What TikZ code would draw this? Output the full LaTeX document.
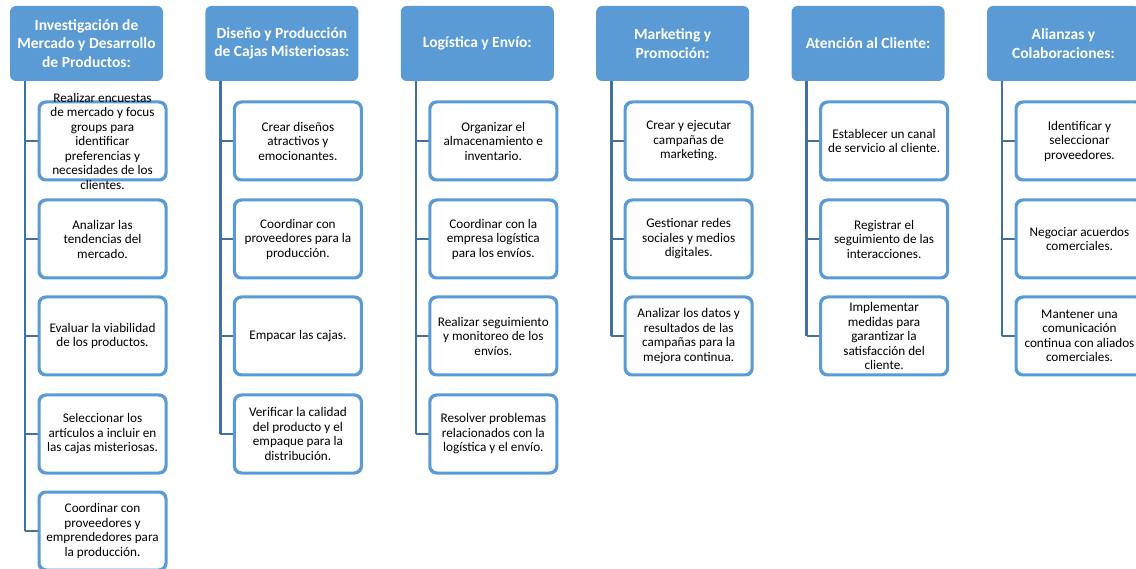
\documentclass[tikz,border=0pt]{standalone}
\usepackage{fontspec}
\setmainfont{Carlito}
\definecolor{hdrblue}{HTML}{5B9BD5}
\definecolor{boxblue}{HTML}{5B9BD5}
\definecolor{lineblue}{HTML}{41719C}
\tikzset{
  hdr/.style={rectangle, rounded corners=6pt, fill=hdrblue, minimum width=153pt,
    minimum height=75pt, inner sep=0pt, text=white, align=center,
    font=\bfseries\fontsize{15.5}{18.3}\selectfont},
  cbox/.style={rectangle, rounded corners=7pt, draw=boxblue, line width=2pt, fill=white,
    minimum width=126pt, minimum height=77pt, inner sep=0pt},
  ctext/.style={align=center, inner sep=0pt, font=\fontsize{13.2}{14.5}\selectfont},
  link/.style={draw=lineblue, line width=2.6pt}
}
\begin{document}
\begin{tikzpicture}[x=1pt,y=1pt]
\useasboundingbox (0,0) rectangle (1136,-569);
\fill[white] (0,0) rectangle (1136,-569);

% ---------- column headers ----------
\node[hdr] (h1) at (86.5,-43.5) {Investigación de\\Mercado y Desarrollo\\de Productos:};
\node[hdr] (h2) at (281.9,-43.5) {Diseño y Producción\\de Cajas Misteriosas:};
\node[hdr] (h3) at (477.3,-43.5) {Logística y Envío:};
\node[hdr] (h4) at (672.7,-43.5) {Marketing y\\Promoción:};
\node[hdr] (h5) at (868.1,-43.5) {Atención al Cliente:};
\node[hdr] (h6) at (1063.5,-43.5) {Alianzas y\\Colaboraciones:};

% trunk tops under each header
\coordinate (t1) at (25,-81);
\coordinate (t2) at (220.4,-81);
\coordinate (t3) at (415.8,-81);
\coordinate (t4) at (611.2,-81);
\coordinate (t5) at (806.6,-81);
\coordinate (t6) at (1002,-81);

% ---------- task boxes ----------
% column 1
\node[cbox] (a1) at (102.5,-141) {};
\node[cbox] (a2) at (102.5,-239) {};
\node[cbox] (a3) at (102.5,-336) {};
\node[cbox] (a4) at (102.5,-434) {};
\node[cbox] (a5) at (102.5,-531) {};
% column 2
\node[cbox] (b1) at (297.9,-141) {};
\node[cbox] (b2) at (297.9,-239) {};
\node[cbox] (b3) at (297.9,-336) {};
\node[cbox] (b4) at (297.9,-434) {};
% column 3
\node[cbox] (c1) at (493.3,-141) {};
\node[cbox] (c2) at (493.3,-239) {};
\node[cbox] (c3) at (493.3,-336) {};
\node[cbox] (c4) at (493.3,-434) {};
% column 4
\node[cbox] (d1) at (688.7,-141) {};
\node[cbox] (d2) at (688.7,-239) {};
\node[cbox] (d3) at (688.7,-336) {};
% column 5
\node[cbox] (e1) at (884.1,-141) {};
\node[cbox] (e2) at (884.1,-239) {};
\node[cbox] (e3) at (884.1,-336) {};
% column 6
\node[cbox] (f1) at (1079.5,-141) {};
\node[cbox] (f2) at (1079.5,-239) {};
\node[cbox] (f3) at (1079.5,-336) {};

% ---------- connectors: trunk per column, branch to each box ----------
\draw[link] (t1) -- (t1 |- a5.west);
\foreach \n in {a1,a2,a3,a4,a5} \draw[link] (t1 |- \n.west) -- (\n.west);
\draw[link] (t2) -- (t2 |- b4.west);
\foreach \n in {b1,b2,b3,b4} \draw[link] (t2 |- \n.west) -- (\n.west);
\draw[link] (t3) -- (t3 |- c4.west);
\foreach \n in {c1,c2,c3,c4} \draw[link] (t3 |- \n.west) -- (\n.west);
\draw[link] (t4) -- (t4 |- d3.west);
\foreach \n in {d1,d2,d3} \draw[link] (t4 |- \n.west) -- (\n.west);
\draw[link] (t5) -- (t5 |- e3.west);
\foreach \n in {e1,e2,e3} \draw[link] (t5 |- \n.west) -- (\n.west);
\draw[link] (t6) -- (t6 |- f3.west);
\foreach \n in {f1,f2,f3} \draw[link] (t6 |- \n.west) -- (\n.west);

% box outlines on top of the branch ends
\foreach \n in {a1,a2,a3,a4,a5,b1,b2,b3,b4,c1,c2,c3,c4,d1,d2,d3,e1,e2,e3,f1,f2,f3}
  \draw[boxblue, line width=2pt, rounded corners=7pt] (\n.south west) rectangle (\n.north east);

% ---------- task texts ----------
\node[ctext] at (a1) {Realizar encuestas\\de mercado y focus\\groups para\\identificar\\preferencias y\\necesidades de los\\clientes.};
\node[ctext] at (a2) {Analizar las\\tendencias del\\mercado.};
\node[ctext] at (a3) {Evaluar la viabilidad\\de los productos.};
\node[ctext] at (a4) {Seleccionar los\\artículos a incluir en\\las cajas misteriosas.};
\node[ctext] at (a5) {Coordinar con\\proveedores y\\emprendedores para\\la producción.};

\node[ctext] at (b1) {Crear diseños\\atractivos y\\emocionantes.};
\node[ctext] at (b2) {Coordinar con\\proveedores para la\\producción.};
\node[ctext] at (b3) {Empacar las cajas.};
\node[ctext] at (b4) {Verificar la calidad\\del producto y el\\empaque para la\\distribución.};

\node[ctext] at (c1) {Organizar el\\almacenamiento e\\inventario.};
\node[ctext] at (c2) {Coordinar con la\\empresa logística\\para los envíos.};
\node[ctext] at (c3) {Realizar seguimiento\\y monitoreo de los\\envíos.};
\node[ctext] at (c4) {Resolver problemas\\relacionados con la\\logística y el envío.};

\node[ctext] at (d1) {Crear y ejecutar\\campañas de\\marketing.};
\node[ctext] at (d2) {Gestionar redes\\sociales y medios\\digitales.};
\node[ctext] at (d3) {Analizar los datos y\\resultados de las\\campañas para la\\mejora continua.};

\node[ctext] at (e1) {Establecer un canal\\de servicio al cliente.};
\node[ctext] at (e2) {Registrar el\\seguimiento de las\\interacciones.};
\node[ctext] at (e3) {Implementar\\medidas para\\garantizar la\\satisfacción del\\cliente.};

\node[ctext] at (f1) {Identificar y\\seleccionar\\proveedores.};
\node[ctext] at (f2) {Negociar acuerdos\\comerciales.};
\node[ctext] at (f3) {Mantener una\\comunicación\\continua con aliados\\comerciales.};
\end{tikzpicture}
\end{document}
